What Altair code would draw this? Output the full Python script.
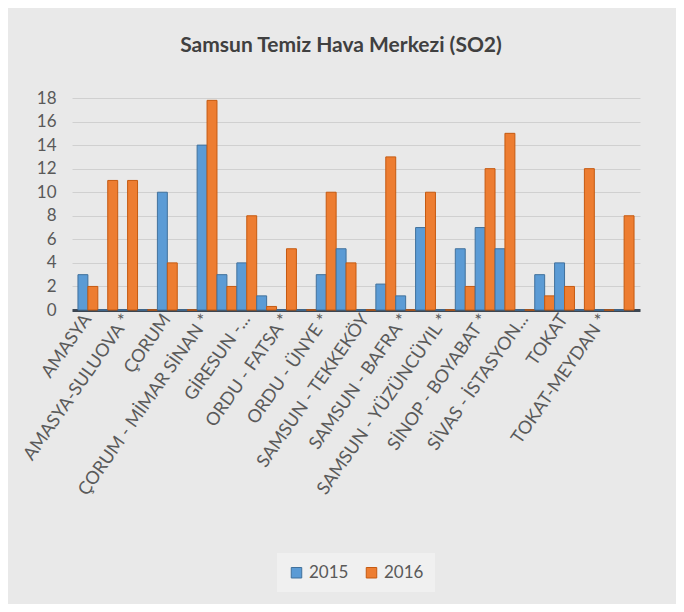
import json
import altair as alt
import pandas as pd

# Visible station labels (Excel shows every other category label)
station_labels = [
    "AMASYA", "AMASYA-SULUOVA *", "ÇORUM", "ÇORUM - MİMAR SİNAN *",
    "GİRESUN -...", "ORDU - FATSA *", "ORDU - ÜNYE *", "SAMSUN - TEKKEKÖY",
    "SAMSUN - BAFRA *", "SAMSUN - YÜZÜNCÜYIL *", "SİNOP - BOYABAT *",
    "SİVAS - İSTASYON...", "TOKAT", "TOKAT-MEYDAN *",
]
years = ["2015", "2016"]
so2_2015 = [3, 0, 0, 0, 10, 0, 14, 3, 4, 1.2, 0, 0, 3, 5.2,
            0, 2.2, 1.2, 7, 0, 5.2, 7, 5.2, 0, 3, 4, 0, 0, 0]
so2_2016 = [2, 11, 11, 0, 4, 0, 17.8, 2, 8, 0.3, 5.2, 0, 10, 4,
            0, 13, 0, 10, 0, 2, 12, 15, 0, 1.2, 2, 12, 0, 8]
y_ticks = [0, 2, 4, 6, 8, 10, 12, 14, 16, 18]

slot_labels = []
for lab in station_labels:
    slot_labels += [lab, ""]

rows = []
for i, (a, b) in enumerate(zip(so2_2015, so2_2016)):
    rows.append({"slot": i, "year": years[0], "value": a})
    rows.append({"slot": i, "year": years[1], "value": b})
df = pd.DataFrame(rows)

label_expr = json.dumps(slot_labels, ensure_ascii=False) + "[datum.value]"
FONT = "Lato"

chart = alt.Chart(df).mark_bar(strokeWidth=1).encode(
    x=alt.X(
        "slot:O",
        scale=alt.Scale(paddingInner=0.0, paddingOuter=0.3),
        axis=alt.Axis(
            title=None, labelExpr=label_expr, labelAngle=-55,
            labelAlign="right", labelBaseline="middle",
            labelFont=FONT, labelFontSize=18, labelColor="#5a5a5a",
            labelLimit=400,
            ticks=False, domainColor="#3d4651", domainWidth=3,
            labelPadding=6, labelOverlap=False, grid=False,
        ),
    ),
    xOffset=alt.XOffset("year:N", scale=alt.Scale(domain=years, paddingInner=0)),
    y=alt.Y(
        "value:Q",
        scale=alt.Scale(domain=[0, 18]),
        axis=alt.Axis(
            values=y_ticks, title=None, domain=False, ticks=False,
            labelPadding=16, labelFont=FONT, labelFontSize=17,
            labelColor="#595959", gridColor="#d0d0d0", gridWidth=1,
        ),
    ),
    color=alt.Color(
        "year:N",
        scale=alt.Scale(domain=years, range=["#5b9bd5", "#ed7d31"]),
        legend=alt.Legend(
            title=None, orient="none", legendX=205, legendY=455,
            direction="horizontal", symbolType="square", symbolSize=110,
            labelFont=FONT, labelFontSize=17, labelColor="#595959",
            fillColor="#f0f0f0", padding=11, columnPadding=14,
            symbolStrokeWidth=1,
        ),
    ),
    stroke=alt.Stroke(
        "year:N",
        scale=alt.Scale(domain=years, range=["#41719c", "#c55a11"]),
        legend=None,
    ),
).properties(
    width=568,
    height=212,
    autosize=alt.AutoSizeParams(type="none"),
    padding={"left": 64, "top": 90, "right": 36, "bottom": 294},
    background="#e9e9e9",
    title=alt.TitleParams(
        "Samsun Temiz Hava Merkezi (SO2)", font=FONT, fontSize=21,
        fontWeight="bold", color="#404040", anchor="middle",
        offset=33, dx=-15,
    ),
).configure_view(stroke=None)

chart.save("out.html", embed_options={"renderer": "svg", "actions": False})
